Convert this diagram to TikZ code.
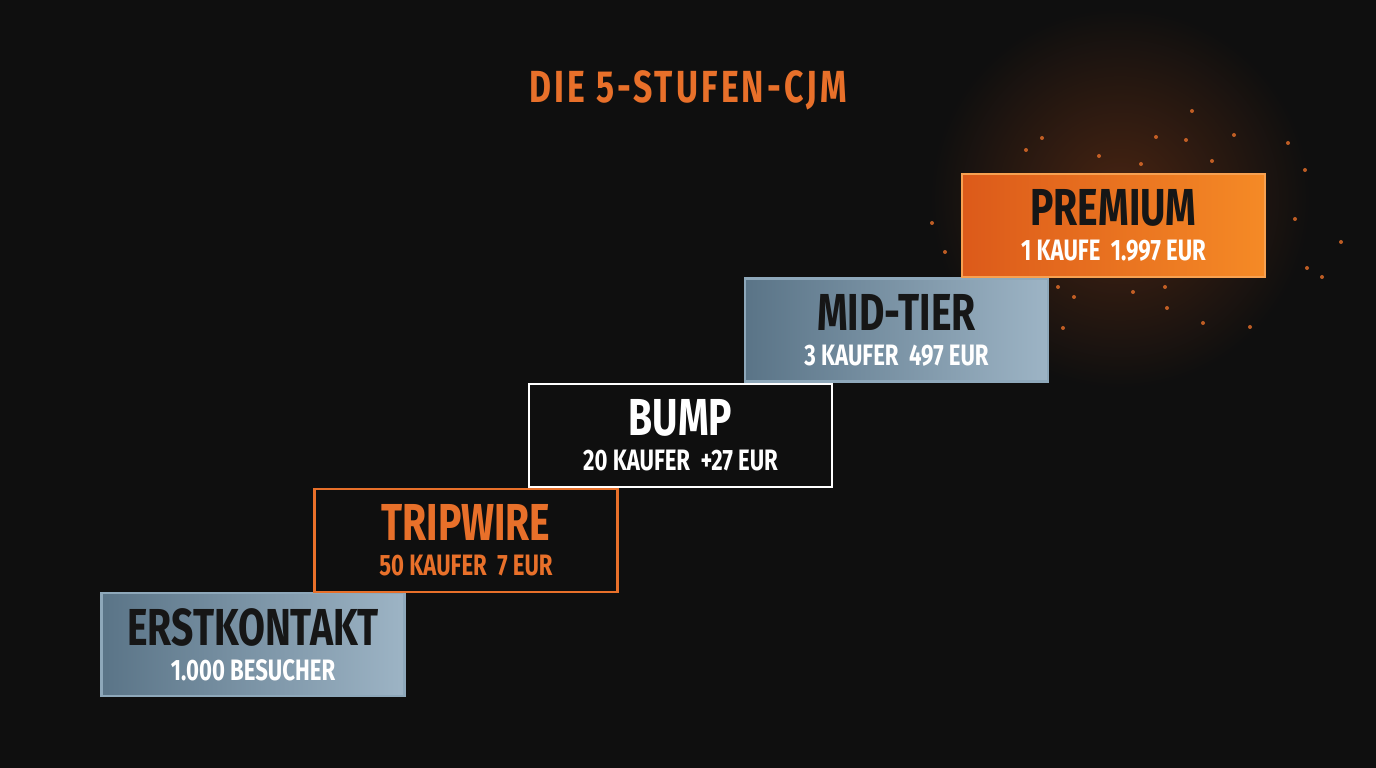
\documentclass[tikz,border=0pt]{standalone}
\usepackage{fontspec}
\setmainfont{Fira Sans}[FakeStretch=0.75]
\usepackage{tikz}
\usetikzlibrary{positioning}

\definecolor{bgdark}{HTML}{0F0F0F}
\definecolor{cjmorange}{HTML}{E8702A}
\definecolor{orangeL}{HTML}{DC5A1A}
\definecolor{orangeR}{HTML}{F58A26}
\definecolor{steelL}{HTML}{5A7487}
\definecolor{steelR}{HTML}{9DB4C5}
\definecolor{steelline}{HTML}{8EA8BA}
\definecolor{inkdark}{HTML}{161616}

\tikzset{
  stufe/.style={minimum width=3.03cm, minimum height=1.03cm, align=center,
    inner sep=0pt, line width=0.75pt},
  steel/.style={stufe, left color=steelL, right color=steelR, draw=steelline, text=inkdark},
  glow/.style={stufe, left color=orangeL, right color=orangeR, draw=orangeR!80!white, text=inkdark},
  funke/.style={fill=cjmorange, opacity=0.8}
}
\newcommand{\kopf}[1]{{\fontsize{14.8}{16}\selectfont\bfseries #1}}
\newcommand{\zeile}[1]{{\fontsize{8.4}{10}\selectfont\bfseries #1}}

\begin{document}
\begin{tikzpicture}
    \fill[bgdark] (0,0) rectangle (13.76,7.68);
    \useasboundingbox (0,0) rectangle (13.76,7.68);
    % glow behind the top step
    \shade[inner color=orangeL!28!bgdark, outer color=bgdark] (11.2,5.7) circle (1.9);

    \node[text=cjmorange] (titel) at (6.88,6.78)
        {\fontsize{12.8}{14}\selectfont\bfseries\addfontfeatures{LetterSpace=7}DIE 5-STUFEN-CJM};

    % sparks
    \foreach \px/\py in {1042/138,1099/156,1141/164,1156/137,1192/111,1212/161,1234/135,
        1288/143,1305/170,1295/219,1341/242,932/223,945/252,1307/268,1322/277,1058/287,
        1074/297,1133/292,1167/308,1203/323,1063/328,1165/287,1250/327,1186/140,1026/150}
      \fill[funke] ({\px/100},{(768-\py)/100}) circle (0.02);

    \node[steel] (erst) at (2.53,1.235)
        {\kopf{ERSTKONTAKT}\\[-2pt]\textcolor{white}{\zeile{1.000 BESUCHER}}};
    \node[stufe, fill=bgdark, draw=cjmorange, text=cjmorange] (trip) at (4.66,2.275)
        {\kopf{TRIPWIRE}\\[-2pt]\zeile{50 KAUFER\ \ 7 EUR}};
    \node[stufe, fill=bgdark, draw=white, text=white] (bump) at (6.805,3.325)
        {\kopf{BUMP}\\[-2pt]\zeile{20 KAUFER\ \ +27 EUR}};
    \node[steel] (mid) at (8.965,4.38)
        {\kopf{MID-TIER}\\[-2pt]\textcolor{white}{\zeile{3 KAUFER\ \ 497 EUR}}};
    \node[glow] (premium) at (11.135,5.425)
        {\kopf{PREMIUM}\\[-2pt]\textcolor{white}{\zeile{1 KAUFE\ \ 1.997 EUR}}};
\end{tikzpicture}
\end{document}
